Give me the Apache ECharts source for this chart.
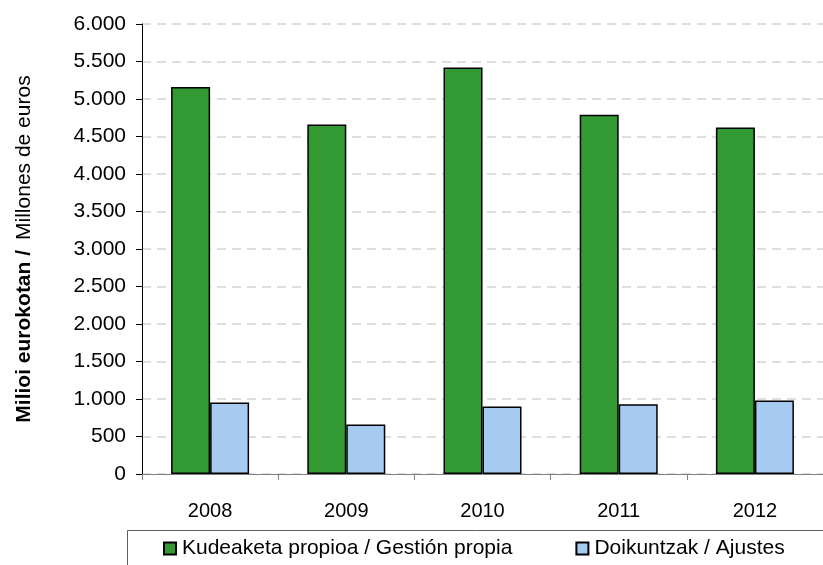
<!DOCTYPE html>
<html>
<head>
<meta charset="utf-8">
<script src="https://cdn.jsdelivr.net/npm/echarts@6/dist/echarts.min.js"></script>
<style>
  html, body { margin: 0; padding: 0; background: #fff; }
  #chart { width: 823px; height: 565px; }
</style>
</head>
<body>
<div id="chart"></div>
<script>
// Years on the category axis
const years = ['2008', '2009', '2010', '2011', '2012'];
// Own management (millions of euros)
const gestionPropia = [5160, 4660, 5420, 4790, 4620];
// Adjustments (millions of euros)
const ajustes = [955, 660, 900, 930, 980];
// Series names shown in the legend
const seriesNames = ['Kudeaketa propioa / Gestión propia', 'Doikuntzak / Ajustes'];

const FONT = '"Liberation Sans", Arial, sans-serif';
const chart = echarts.init(document.getElementById('chart'));

// Thousands with a dot separator: 6000 -> "6.000"
const fmtThousands = v => {
  const s = String(v);
  return s.length > 3 ? s.slice(0, -3) + '.' + s.slice(-3) : s;
};

chart.setOption({
  animation: false,
  backgroundColor: '#ffffff',
  textStyle: { fontFamily: FONT },
  grid: { left: 142, top: 24, right: -7, bottom: 91, containLabel: false },
  legend: {
    left: 158,
    top: 533,
    itemGap: 63,
    itemWidth: 12,
    itemHeight: 12,
    icon: 'rect',
    textStyle: { fontFamily: FONT, fontSize: 21, color: '#000', padding: [0, 0, 0, 1] },
    data: seriesNames
  },
  graphic: [{
    type: 'rect',
    silent: true,
    shape: { x: 127.5, y: 530.5, width: 720, height: 60 },
    style: { fill: 'none', stroke: '#606060', lineWidth: 1 }
  }],
  xAxis: {
    type: 'category',
    data: years,
    axisLine: { show: true, lineStyle: { color: '#808080', width: 1 } },
    axisTick: { show: true, length: 6, lineStyle: { color: '#808080' } },
    axisLabel: { margin: 27, fontFamily: FONT, fontSize: 20, color: '#000' },
    splitLine: { show: false }
  },
  yAxis: {
    type: 'value',
    min: 0,
    max: 6000,
    interval: 500,
    name: '{b|Milioi eurokotan /}   {n|Millones de euros}',
    nameLocation: 'middle',
    nameGap: 107,
    nameRotate: 90,
    nameTextStyle: {
      rich: {
        b: { fontFamily: FONT, fontSize: 21, fontWeight: 'bold', color: '#000' },
        n: { fontFamily: FONT, fontSize: 21, color: '#000' }
      }
    },
    axisLine: { show: true, lineStyle: { color: '#000', width: 1 } },
    axisTick: { show: true, length: 6, lineStyle: { color: '#000' } },
    axisLabel: {
      margin: 16,
      fontFamily: FONT,
      fontSize: 21,
      color: '#000',
      formatter: fmtThousands
    },
    splitLine: { show: true, lineStyle: { color: '#d4d4d4', type: [9, 6], width: 1.5 } }
  },
  series: [
    {
      name: seriesNames[0],
      type: 'bar',
      data: gestionPropia,
      barWidth: 39,
      barGap: '0%',
      itemStyle: { color: '#339933', borderColor: '#000', borderWidth: 1.5 }
    },
    {
      name: seriesNames[1],
      type: 'bar',
      data: ajustes,
      barWidth: 39,
      barGap: '0%',
      itemStyle: { color: '#a6caf0', borderColor: '#000', borderWidth: 1.5 }
    }
  ]
});
</script>
</body>
</html>
